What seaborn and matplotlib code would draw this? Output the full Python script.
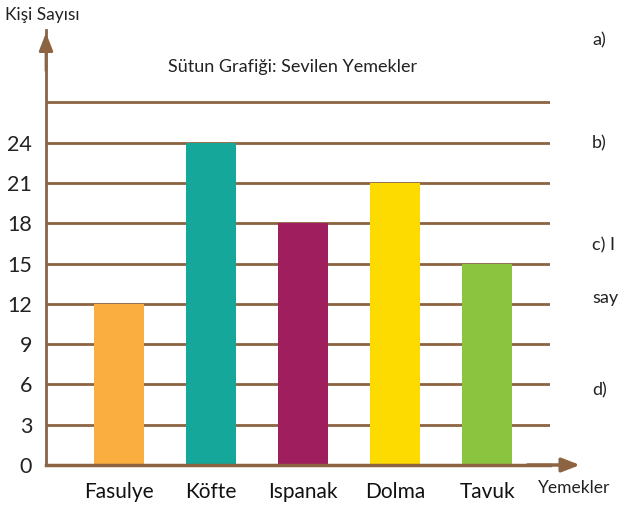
import matplotlib
matplotlib.use('Agg')
import matplotlib.pyplot as plt
import seaborn as sns

foods = ["Fasulye", "Köfte", "Ispanak", "Dolma", "Tavuk"]
counts = [12, 24, 18, 21, 15]
bar_colors = ["#F9AE3F", "#14A79A", "#9E1E5E", "#FDDB00", "#8BC53F"]
y_ticks = [0, 3, 6, 9, 12, 15, 18, 21, 24, 27]
y_labels = ["0", "3", "6", "9", "12", "15", "18", "21", "24", ""]

BROWN = "#8C6441"

sns.set_theme(style="white")
plt.rcParams['font.family'] = ['Lato', 'DejaVu Sans']

fig = plt.figure(figsize=(6.21, 5.23), dpi=100)
W, H = 621, 523
ax = fig.add_axes([46 / W, (H - 465) / H, (550 - 46) / W, (465 - 30) / H])

sns.barplot(x=foods, y=counts, hue=foods, palette=bar_colors, legend=False,
            width=0.54, saturation=1, linewidth=0, ax=ax, zorder=3)

ax.set_xlim(-0.79, 4.68)
ax.set_ylim(0, 32.4)
ax.set_yticks(y_ticks)
ax.set_yticklabels(y_labels, fontsize=15.5, color="#222222")
ax.tick_params(axis='y', length=0, pad=10)
ax.tick_params(axis='x', length=0, pad=12, labelsize=15, labelcolor="#111111")
ax.set_xlabel("")
ax.set_ylabel("")

ax.yaxis.grid(True, color=BROWN, linewidth=2)
ax.xaxis.grid(False)
ax.set_axisbelow(True)

for side in ["top", "right"]:
    ax.spines[side].set_visible(False)
ax.spines["left"].set_color(BROWN)
ax.spines["left"].set_linewidth(2)
ax.spines["bottom"].set_color(BROWN)
ax.spines["bottom"].set_linewidth(2.5)
ax.spines["left"].set_zorder(5)
ax.spines["bottom"].set_zorder(5)

# axis arrows
ax.annotate("", xy=(0, 1.0), xytext=(0, 0.9), xycoords="axes fraction",
            arrowprops=dict(arrowstyle="-|>,head_length=0.9,head_width=0.35",
                            color=BROWN, lw=2), annotation_clip=False)
ax.annotate("", xy=(1.065, 0), xytext=(0.95, 0), xycoords="axes fraction",
            arrowprops=dict(arrowstyle="-|>,head_length=0.9,head_width=0.35",
                            color=BROWN, lw=2.5), annotation_clip=False)

ax.text(0.49, 0.915, "Sütun Grafiği: Sevilen Yemekler", transform=ax.transAxes,
        ha="center", va="center", fontsize=13, color="#222222")

fig.text(5 / W, 1 - 15 / H, "Kişi Sayısı", ha="left", va="center",
         fontsize=12.5, color="#222222")
fig.text(538 / W, 1 - 488 / H, "Yemekler", ha="left", va="center",
         fontsize=12.5, color="#222222")

side_notes = [("a)", 40), ("b)", 143), ("c) I", 245), ("say", 298), ("d)", 390)]
for note, ypx in side_notes:
    fig.text(592 / W, 1 - ypx / H, note, ha="left", va="center",
             fontsize=13, color="#222222")

fig.savefig("out.png", dpi=100)
